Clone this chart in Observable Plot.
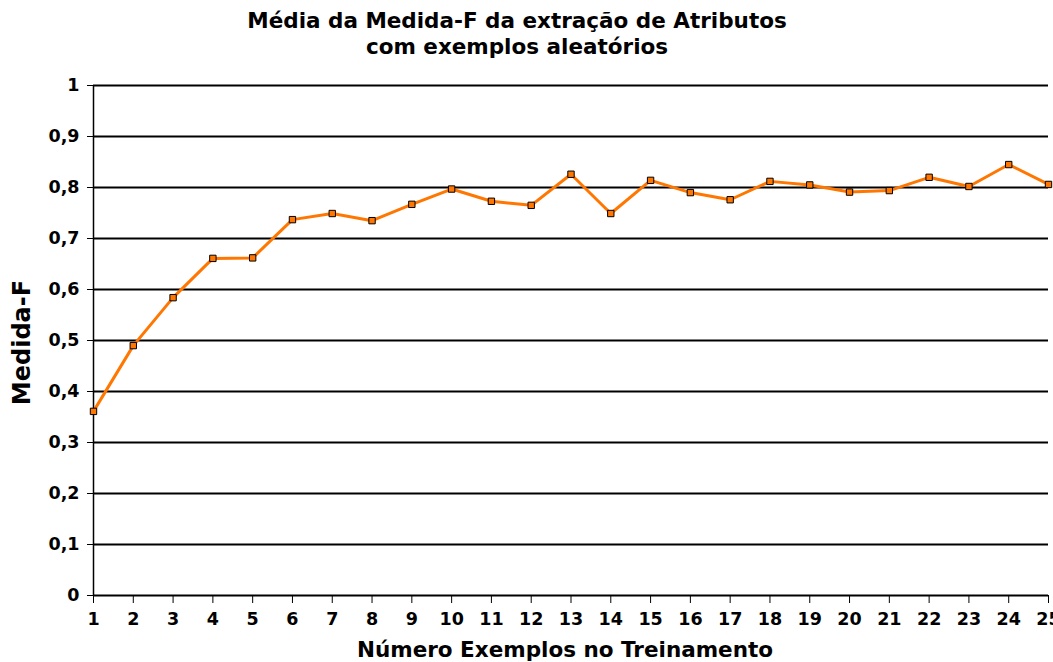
<!DOCTYPE html>
<html>
<head>
<meta charset="utf-8">
<script src="https://cdn.jsdelivr.net/npm/d3@7"></script>
<script src="https://cdn.jsdelivr.net/npm/@observablehq/plot@0.6"></script>
<style>
  html, body { margin: 0; padding: 0; background: #fff; }
  svg { font-family: "DejaVu Sans", sans-serif; }
</style>
</head>
<body>
<div id="chart"></div>
<script>
const exemplos = [1,2,3,4,5,6,7,8,9,10,11,12,13,14,15,16,17,18,19,20,21,22,23,24,25];
const medidaF = [0.361,0.490,0.584,0.661,0.662,0.737,0.749,0.735,0.767,0.797,0.773,0.765,0.826,0.749,0.814,0.790,0.776,0.812,0.805,0.791,0.794,0.820,0.802,0.845,0.806];
const yTicks = [0,0.1,0.2,0.3,0.4,0.5,0.6,0.7,0.8,0.9,1];
const titulo = ["Média da Medida-F da extração de Atributos", "com exemplos aleatórios"];
const rotuloX = "Número Exemplos no Treinamento";
const rotuloY = "Medida-F";

const data = exemplos.map((x, i) => ({x, y: medidaF[i]}));
const fmt = v => String(v).replace(".", ",");

const chart = Plot.plot({
  width: 1053,
  height: 662,
  marginLeft: 93,
  marginRight: 5,
  marginTop: 85,
  marginBottom: 67,
  style: {fontFamily: "DejaVu Sans, sans-serif", fontWeight: "bold", fontSize: "17.5px", color: "#000", background: "#fff"},
  x: {domain: [1, 25], label: null},
  y: {domain: [0, 1], label: null},
  marks: [
    Plot.gridY(yTicks, {stroke: "#000", strokeOpacity: 1, strokeWidth: 2}),
    Plot.ruleX([1], {stroke: "#000", strokeWidth: 1.5}),
    Plot.axisX({ticks: exemplos, tickFormat: d => d, tickSize: 8, tickPadding: 9, fontWeight: "bold", fontSize: 17.5, label: null}),
    Plot.axisY({ticks: yTicks, tickFormat: fmt, tickSize: 6, tickPadding: 8, fontWeight: "bold", fontSize: 17.5, label: null}),
    Plot.line(data, {x: "x", y: "y", stroke: "#ff7700", strokeWidth: 3}),
    Plot.dot(data, {x: "x", y: "y", symbol: "square", r: 3.6, fill: "#ff7700", stroke: "#000", strokeWidth: 1}),
    Plot.text([titulo[0]], {frameAnchor: "top", dx: -54, dy: -73, fontSize: 21.5, fontWeight: "bold", fill: "#000"}),
    Plot.text([titulo[1]], {frameAnchor: "top", dx: -54, dy: -47, fontSize: 21.5, fontWeight: "bold", fill: "#000"}),
    Plot.text([rotuloX], {frameAnchor: "bottom", dx: -6, dy: 61, fontSize: 21.5, fontWeight: "bold", fill: "#000"}),
    Plot.text([rotuloY], {frameAnchor: "left", dx: -71, dy: 2, rotate: -90, textAnchor: "middle", fontSize: 24, fontWeight: "bold", fill: "#000"})
  ]
});
document.getElementById("chart").appendChild(chart);
</script>
</body>
</html>
